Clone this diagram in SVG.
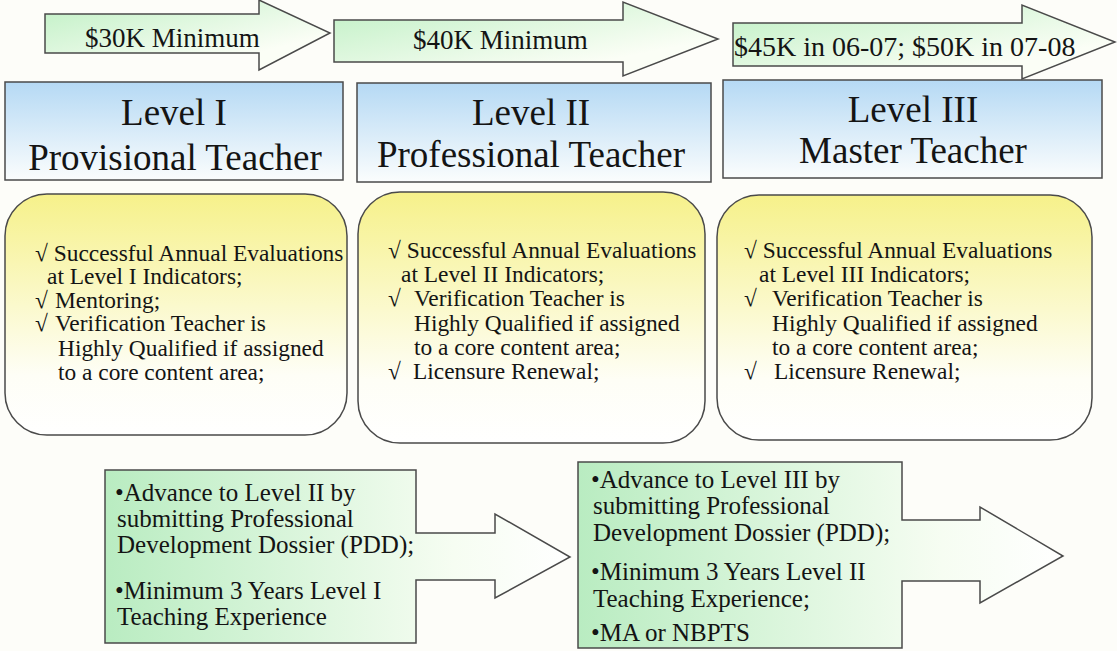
<svg xmlns="http://www.w3.org/2000/svg" width="1117" height="651" viewBox="0 0 1117 651">
  <defs>
    <linearGradient id="gArrow" x1="0" y1="0" x2="1" y2="1">
      <stop offset="0" stop-color="#bff0c4"/>
      <stop offset="0.75" stop-color="#fbfef6"/>
    </linearGradient>
    <linearGradient id="gBlue" x1="0" y1="0" x2="0" y2="1">
      <stop offset="0" stop-color="#b5d9f4"/>
      <stop offset="1" stop-color="#fbfdfd"/>
    </linearGradient>
    <linearGradient id="gYellow" x1="0" y1="0" x2="0" y2="1">
      <stop offset="0" stop-color="#f6f18a"/>
      <stop offset="0.75" stop-color="#fefef6"/>
      <stop offset="1" stop-color="#ffffff"/>
    </linearGradient>
    <linearGradient id="gCallout" x1="0" y1="0" x2="1" y2="0">
      <stop offset="0" stop-color="#b9ecc1"/>
      <stop offset="0.75" stop-color="#f6fdf2"/>
      <stop offset="1" stop-color="#ffffff"/>
    </linearGradient>
  </defs>
  <style>
    .shape { stroke: #4a4a4a; stroke-width: 1.5; }
    .txt { font-family: "Liberation Serif", "Times New Roman", serif; fill: #141414; }
    .pay { font-size: 27px; }
    .pay-wide { font-size: 28px; }
    .title { font-size: 37px; text-anchor: middle; }
    .item { font-size: 23.4px; }
    .step { font-size: 25px; }
  </style>
  <rect width="1117" height="651" fill="#fdfdf9"/>

  <!-- salary arrows across the top -->
  <g id="pay-level1">
    <polygon class="shape" fill="url(#gArrow)" points="45,14 259,14 259,0 330,33 259,70 259,53 45,53"/>
    <text class="txt pay" x="85" y="47">$30K Minimum</text>
  </g>
  <g id="pay-level2">
    <polygon class="shape" fill="url(#gArrow)" points="334,20 623,20 623,2 718,39 623,76 623,62 334,62"/>
    <text class="txt pay" x="413" y="49">$40K Minimum</text>
  </g>
  <g id="pay-level3">
    <polygon class="shape" fill="url(#gArrow)" points="733,23 1022,23 1022,5 1115,42 1022,79 1022,66 733,66"/>
    <text class="txt pay-wide" x="734" y="56">$45K in 06-07; $50K in 07-08</text>
  </g>

  <!-- level titles -->
  <g id="level1">
    <rect class="shape" fill="url(#gBlue)" x="5" y="82" width="338" height="98"/>
    <text class="txt title" x="174" y="125">Level I</text>
    <text class="txt title" x="175" y="170">Provisional Teacher</text>
  </g>
  <g id="level2">
    <rect class="shape" fill="url(#gBlue)" x="357" y="83" width="354" height="99"/>
    <text class="txt title" x="531" y="125">Level II</text>
    <text class="txt title" x="531" y="167">Professional Teacher</text>
  </g>
  <g id="level3">
    <rect class="shape" fill="url(#gBlue)" x="723" y="80" width="379" height="98"/>
    <text class="txt title" x="913" y="122">Level III</text>
    <text class="txt title" x="913" y="163">Master Teacher</text>
  </g>

  <!-- requirements per level -->
  <g id="req1">
    <rect class="shape" fill="url(#gYellow)" x="5" y="194" width="342" height="241" rx="42" ry="42"/>
    <text class="txt item" x="35" y="261">√ Successful Annual Evaluations</text>
    <text class="txt item" x="47" y="284">at Level I Indicators;</text>
    <text class="txt item" x="35" y="308">√</text>
    <text class="txt item" x="55" y="308">Mentoring;</text>
    <text class="txt item" x="35" y="331">√</text>
    <text class="txt item" x="55" y="331">Verification Teacher is</text>
    <text class="txt item" x="58" y="356">Highly Qualified if assigned</text>
    <text class="txt item" x="58" y="380">to a core content area;</text>
  </g>
  <g id="req2">
    <rect class="shape" fill="url(#gYellow)" x="358" y="192" width="347" height="251" rx="42" ry="42"/>
    <text class="txt item" x="388" y="258">√ Successful Annual Evaluations</text>
    <text class="txt item" x="401" y="282">at Level II Indicators;</text>
    <text class="txt item" x="388" y="306">√</text>
    <text class="txt item" x="414" y="306">Verification Teacher is</text>
    <text class="txt item" x="414" y="331">Highly Qualified if assigned</text>
    <text class="txt item" x="414" y="355">to a core content area;</text>
    <text class="txt item" x="388" y="379">√</text>
    <text class="txt item" x="413" y="379">Licensure Renewal;</text>
  </g>
  <g id="req3">
    <rect class="shape" fill="url(#gYellow)" x="717" y="195" width="375" height="245" rx="42" ry="42"/>
    <text class="txt item" x="744" y="258">√ Successful Annual Evaluations</text>
    <text class="txt item" x="759" y="282">at Level III Indicators;</text>
    <text class="txt item" x="744" y="306">√</text>
    <text class="txt item" x="772" y="306">Verification Teacher is</text>
    <text class="txt item" x="772" y="331">Highly Qualified if assigned</text>
    <text class="txt item" x="772" y="355">to a core content area;</text>
    <text class="txt item" x="744" y="379">√</text>
    <text class="txt item" x="774" y="379">Licensure Renewal;</text>
  </g>

  <!-- advancement callouts -->
  <g id="advance1">
    <polygon class="shape" fill="url(#gCallout)" points="105,470 416,470 416,533 495,533 495,514 570,557 495,598 495,580 416,580 416,643 105,643"/>
    <text class="txt step" x="115" y="501">•Advance to Level II by</text>
    <text class="txt step" x="117" y="527">submitting Professional</text>
    <text class="txt step" x="117" y="553">Development Dossier (PDD);</text>
    <text class="txt step" x="115" y="599">•Minimum 3 Years Level I</text>
    <text class="txt step" x="117" y="625">Teaching Experience</text>
  </g>
  <g id="advance2">
    <polygon class="shape" fill="url(#gCallout)" points="578,462 902,462 902,520 980,520 980,507 1063,556 980,603 980,581 902,581 902,648 578,648"/>
    <text class="txt step" x="591" y="488">•Advance to Level III by</text>
    <text class="txt step" x="593" y="514">submitting Professional</text>
    <text class="txt step" x="593" y="541">Development Dossier (PDD);</text>
    <text class="txt step" x="591" y="580">•Minimum 3 Years  Level II</text>
    <text class="txt step" x="593" y="607">Teaching Experience;</text>
    <text class="txt step" x="591" y="641">•MA or NBPTS</text>
  </g>
</svg>
